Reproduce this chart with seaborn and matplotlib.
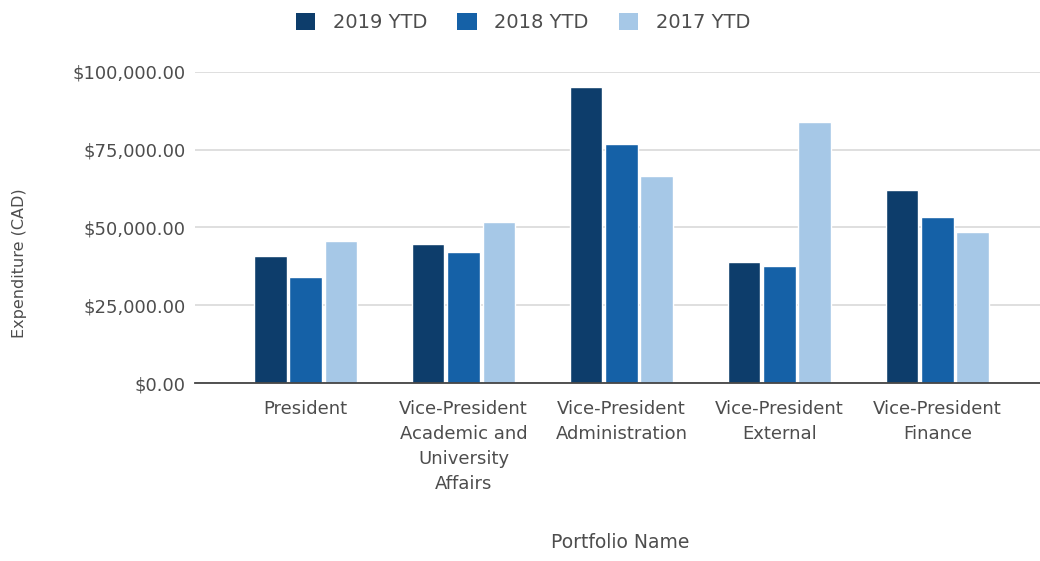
import matplotlib
matplotlib.use("Agg")
import matplotlib.pyplot as plt
import seaborn as sns
import pandas as pd
from matplotlib.ticker import FuncFormatter
from matplotlib.patches import Patch

portfolios = [
    "President",
    "Vice-President\nAcademic and\nUniversity\nAffairs",
    "Vice-President\nAdministration",
    "Vice-President\nExternal",
    "Vice-President\nFinance",
]
years = ["2019 YTD", "2018 YTD", "2017 YTD"]
ytd_2019 = [41000, 44800, 95200, 38800, 62200]
ytd_2018 = [34100, 42000, 76800, 37700, 53400]
ytd_2017 = [45800, 51800, 66400, 83900, 48400]
colors = ["#0d3d6b", "#1561a7", "#a6c8e7"]

rows = []
for year, vals in zip(years, [ytd_2019, ytd_2018, ytd_2017]):
    for p, v in zip(portfolios, vals):
        rows.append({"Portfolio Name": p, "Year": year, "Expenditure": v})
df = pd.DataFrame(rows)

sns.set_theme(style="white")
plt.rcParams["font.family"] = ["DejaVu Sans"]
text_color = "#4d4d4d"

fig = plt.figure(figsize=(10.4, 5.61), dpi=100)
ax = fig.add_axes([0.1875, 0.317, 0.8125, 0.555])

sns.barplot(data=df, x="Portfolio Name", y="Expenditure", hue="Year",
            hue_order=years, order=portfolios, palette=colors,
            width=0.67, gap=0.08, saturation=1, ax=ax, legend=False)

ax.set_ylim(0, 100000)
ax.set_xlim(-0.70, 4.65)
ax.set_yticks([0, 25000, 50000, 75000, 100000])
ax.yaxis.set_major_formatter(FuncFormatter(lambda v, _: f"${v:,.2f}"))
ax.grid(axis="y", color="#d9d9d9", linewidth=1.2)
ax.set_axisbelow(True)
for side in ["top", "right", "left"]:
    ax.spines[side].set_visible(False)
ax.spines["bottom"].set_color("#444444")
ax.spines["bottom"].set_linewidth(1.3)
ax.tick_params(axis="both", length=0, colors=text_color)
ax.tick_params(axis="y", pad=7, labelsize=13)
ax.tick_params(axis="x", pad=12, labelsize=13)
for lbl in ax.get_xticklabels():
    lbl.set_linespacing(1.5)

ax.set_xlabel("Portfolio Name", color=text_color, fontsize=13.5)
ax.set_ylabel("Expenditure (CAD)", color=text_color, fontsize=11.5)
ax.xaxis.set_label_coords(0.503, -0.48)
ax.yaxis.set_label_coords(-0.199, 0.385)

handles = [Patch(facecolor=c, edgecolor="none") for c in colors]
fig.legend(handles, years, loc="upper center", bbox_to_anchor=(0.503, 1.008),
           ncol=3, frameon=False, handlelength=1.0, handleheight=1.0,
           columnspacing=1.55, handletextpad=0.9, fontsize=14,
           labelcolor=text_color)

fig.savefig("out.png", dpi=100, facecolor="white")
